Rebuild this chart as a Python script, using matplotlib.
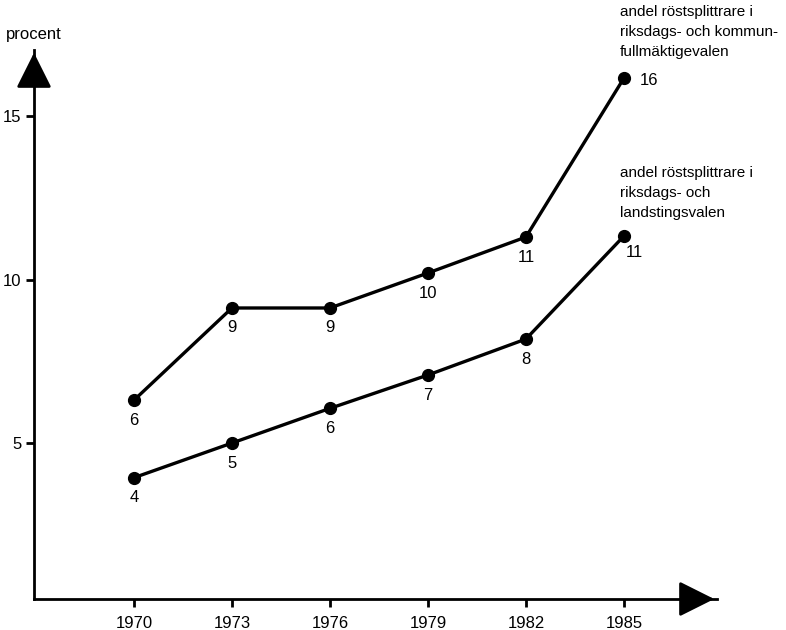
import matplotlib
matplotlib.use("Agg")
import matplotlib.pyplot as plt

plt.rcParams['font.family'] = ['Liberation Sans', 'DejaVu Sans']

years = [1970, 1973, 1976, 1979, 1982, 1985]
kommun = [6.31, 9.13, 9.13, 10.2, 11.3, 16.16]
landsting = [3.94, 5.0, 6.06, 7.08, 8.18, 11.33]
kommun_labels = ["6", "9", "9", "10", "11", "16"]
landsting_labels = ["4", "5", "6", "7", "8", "11"]
yticks = [5, 10, 15]
kommun_text = "andel röstsplittrare i\nriksdags- och kommun-\nfullmäktigevalen"
landsting_text = "andel röstsplittrare i\nriksdags- och\nlandstingsvalen"

W, H = 786, 630
fig = plt.figure(figsize=(W / 100, H / 100), dpi=100)
# axes box in pixels: left 34, right 717 (arrow tip), bottom 599, top 50
ax = fig.add_axes([34 / W, 1 - 599 / H, (717 - 34) / W, (599 - 50) / H])
ax.set_xlim(1966.94, 1987.85)
ax.set_ylim(0.23, 17.02)

for s in ["top", "right"]:
    ax.spines[s].set_visible(False)
for s in ["left", "bottom"]:
    ax.spines[s].set_linewidth(2.0)

# arrow heads
ax.annotate("", xy=(0, 1), xytext=(0, 0.95), xycoords="axes fraction",
            arrowprops=dict(arrowstyle="-|>,head_length=1.1,head_width=0.55",
                            mutation_scale=20, color="black", lw=2))
ax.annotate("", xy=(1, 0), xytext=(0.95, 0), xycoords="axes fraction",
            arrowprops=dict(arrowstyle="-|>,head_length=1.1,head_width=0.55",
                            mutation_scale=20, color="black", lw=2))

ax.set_xticks(years)
ax.set_xticklabels([str(y) for y in years])
ax.set_yticks(yticks)
ax.tick_params(axis="both", direction="out", length=6, width=2, labelsize=12, pad=6)
ax.tick_params(axis="y", pad=3)

ax.plot(years, kommun, color="black", lw=2.4, marker="o", ms=8.5, clip_on=False)
ax.plot(years, landsting, color="black", lw=2.4, marker="o", ms=8.5, clip_on=False)

for x, y, t in zip(years[:-1], kommun[:-1], kommun_labels[:-1]):
    ax.annotate(t, (x, y), xytext=(0, -20), textcoords="offset pixels",
                ha="center", va="center", fontsize=12)
for x, y, t in zip(years[:-1], landsting[:-1], landsting_labels[:-1]):
    ax.annotate(t, (x, y), xytext=(0, -20), textcoords="offset pixels",
                ha="center", va="center", fontsize=12)
ax.annotate(kommun_labels[-1], (years[-1], kommun[-1]), xytext=(16, -2),
            textcoords="offset pixels", ha="left", va="center", fontsize=12)
ax.annotate(landsting_labels[-1], (years[-1], landsting[-1]), xytext=(10, -16),
            textcoords="offset pixels", ha="center", va="center", fontsize=12)

fig.text(620 / W, 1 - 5 / H, kommun_text, ha="left", va="top", fontsize=11,
         linespacing=1.55)
fig.text(620 / W, 1 - 166 / H, landsting_text, ha="left", va="top", fontsize=11,
         linespacing=1.55)
fig.text(34 / W, 1 - 35 / H, "procent", ha="center", va="center", fontsize=12)

fig.savefig("out.png", dpi=100)
